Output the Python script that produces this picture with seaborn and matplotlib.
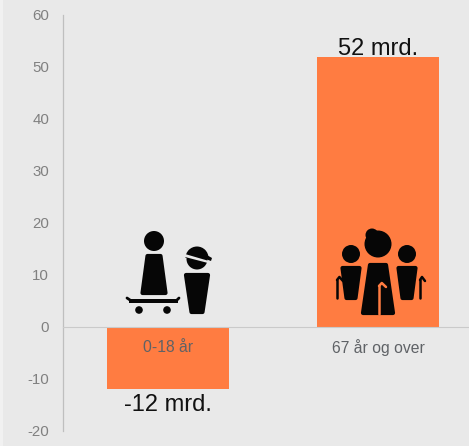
import matplotlib
matplotlib.use('Agg')
import matplotlib.pyplot as plt
import pandas as pd
import seaborn as sns
from matplotlib.patches import Circle, Polygon, Rectangle, Wedge

age_groups = ['0-18 år', '67 år og over']
values = [-12, 52]
value_labels = ['-12 mrd.', '52 mrd.']
y_ticks = [-20, -10, 0, 10, 20, 30, 40, 50, 60]

BG = '#e9e9e9'
BAR = '#ff7c41'
INK = '#060606'
W, H = 469, 446

sns.set_theme(style='white')
plt.rcParams['font.family'] = ['Liberation Sans', 'DejaVu Sans']
plt.rcParams['axes.unicode_minus'] = False

df = pd.DataFrame({'group': age_groups, 'value': values})

fig = plt.figure(figsize=(W / 100, H / 100), dpi=100, facecolor=BG)
# axes run past the right edge of the image, like the cropped original
ax = fig.add_axes([63 / W, 1 - 431 / H, 420 / W, 416 / H], facecolor=BG)
sns.barplot(data=df, x='group', y='value', color=BAR, saturation=1, width=0.58,
            linewidth=0, ax=ax)

ax.set_axisbelow(False)
ax.set_xlim(-0.5, 1.5)
ax.set_ylim(-20, 60)
ax.set_yticks(y_ticks)
ax.set_xlabel('')
ax.set_ylabel('')
ax.tick_params(axis='y', length=0, pad=10, labelsize=10.8, labelcolor='#808080')
ax.tick_params(axis='x', length=0, pad=9, labelsize=11.3, labelcolor='#5f6266')
ax.get_xticklabels()[0].set_color('#b5603a')

ax.spines['top'].set_visible(False)
ax.spines['right'].set_visible(False)
ax.spines['left'].set_color('#bfbfbf')
ax.spines['left'].set_linewidth(0.9)
ax.spines['bottom'].set_color('#cacaca')
ax.spines['bottom'].set_linewidth(0.8)
ax.spines['bottom'].set_position(('data', 0))

for i, (v, txt) in enumerate(zip(values, value_labels)):
    ax.annotate(txt, (i, v), xytext=(0, -2.5 if v > 0 else -3), textcoords='offset points',
                ha='center', va='bottom' if v > 0 else 'top', fontsize=17, color='#111111',
                zorder=5)

# icons, drawn on an overlay measured in image pixels
ov = fig.add_axes([0, 0, 1, 1], facecolor='none')
ov.set_xlim(0, W)
ov.set_ylim(H, 0)
ov.axis('off')
ov.add_patch(Rectangle((0, 0), 3, H, fc='#f1f1f1', lw=0))


def person(x, head_y, r, top, bottom, y0, y1):
    ov.add_patch(Circle((x, head_y), r, color=INK, lw=0))
    ov.add_patch(Polygon([(x - top, y0), (x + top, y0), (x + bottom, y1), (x - bottom, y1)],
                         closed=True, fc=INK, ec=INK, lw=3, joinstyle='round'))


def cane(x, y0, y1, hook, color):
    ov.plot([x, x], [y0, y1], color=color, lw=1.8, solid_capstyle='round')
    ov.plot([x, x + hook * 0.4, x + hook], [y1, y1 - 3, y1 + 1], color=color, lw=1.8,
            solid_capstyle='round')


# child on skateboard
person(154, 241, 10, 6.5, 11.5, 256, 293)
ov.add_patch(Rectangle((129, 299), 49, 3.5, color=INK, lw=0))
ov.plot([127, 130], [298, 300], color=INK, lw=2)
ov.plot([177, 179], [300, 298], color=INK, lw=2)
ov.add_patch(Circle((139, 310), 3.8, color=INK, lw=0))
ov.add_patch(Circle((167, 310), 3.8, color=INK, lw=0))

# child with cap
person(197, 259, 10.5, 11, 5.5, 275, 312)
ov.add_patch(Wedge((197, 258), 11.5, 180, 360, color=INK, lw=0))
ov.add_patch(Polygon([(185, 254), (209, 261), (208, 263), (185, 257)], closed=True, fc=BG, lw=0))
ov.add_patch(Polygon([(200, 251), (212, 258), (211, 261), (200, 257)], closed=True, fc=INK, lw=0))

# seniors
ov.add_patch(Circle((372, 235), 6.5, color=INK, lw=0))
person(378, 244, 13.5, 8, 15, 265, 313)
cane(379, 314, 286, 7, BAR)
person(351, 254, 9, 8.5, 4.5, 268, 298)
person(407, 254, 9, 8.5, 4.5, 268, 298)
cane(337, 298, 280, 6, INK)
cane(420, 298, 280, 5, INK)

fig.savefig('out.png', dpi=100, facecolor=BG)
